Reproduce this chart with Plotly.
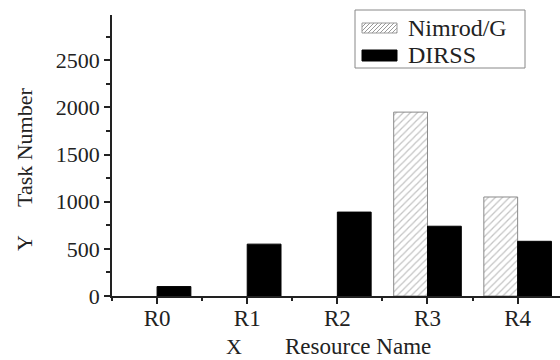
import plotly.graph_objects as go

categories = ["R0", "R1", "R2", "R3", "R4"]
nimrod_g = [None, None, None, 1950, 1050]
dirss = [100, 550, 890, 740, 580]
y_ticks = [0, 500, 1000, 1500, 2000, 2500]
series_names = ["Nimrod/G", "DIRSS"]

W, H = 560, 360
L, R, T, B = 112, 0, 15, 64
PW, PH = W - L - R, H - T - B
FONT = "Liberation Serif"


def px(x):
    return (x - L) / PW


def py(y):
    return (H - B - y) / PH


xs = list(range(len(categories)))

fig = go.Figure()
fig.add_trace(go.Bar(
    x=xs, y=nimrod_g, name=series_names[0],
    marker=dict(color="white", line=dict(color="#8a8a8a", width=1),
                pattern=dict(shape="/", fgcolor="#8a8a8a", bgcolor="white",
                             size=5, solidity=0.25)),
    showlegend=False,
))
fig.add_trace(go.Bar(
    x=xs, y=dirss, name=series_names[1],
    marker=dict(color="black", line=dict(color="black", width=1)),
    showlegend=False,
))

fig.update_layout(
    width=W, height=H,
    margin=dict(l=L, r=R, t=T, b=B, pad=0),
    paper_bgcolor="white", plot_bgcolor="white",
    barmode="group", bargap=0.25, bargroupgap=0,
    font=dict(family=FONT, size=22, color="#222"),
)
fig.update_xaxes(
    range=[-0.5, 4.47], tickvals=xs, ticktext=categories,
    showline=True, linecolor="#222", linewidth=1.5,
    ticks="outside", ticklen=6, tickwidth=1.5, tickcolor="#222",
    minor=dict(tick0=0.5, dtick=1, ticks="outside", ticklen=3, tickwidth=1.5, tickcolor="#222"),
    showgrid=False, zeroline=False, tickfont=dict(size=23, family=FONT),
    ticklabelstandoff=-5,
)
fig.update_yaxes(
    range=[0, 2980], tickvals=y_ticks,
    showline=True, linecolor="#222", linewidth=1.5,
    ticks="outside", ticklen=6, tickwidth=1.5, tickcolor="#222",
    minor=dict(dtick=250, ticks="outside", ticklen=4, tickwidth=1.5, tickcolor="#222"),
    showgrid=False, zeroline=False, tickfont=dict(size=22, family=FONT),
)

shapes = []
annotations = []

# legend box
shapes.append(dict(type="rect", xref="paper", yref="paper",
                   x0=px(355), x1=px(525), y0=py(68), y1=py(10),
                   line=dict(color="#888", width=1), fillcolor="white", layer="above"))
# hatched swatch
sx0, sx1, sy0, sy1 = 362, 397, 23, 33
shapes.append(dict(type="rect", xref="paper", yref="paper",
                   x0=px(sx0), x1=px(sx1), y0=py(sy1), y1=py(sy0),
                   line=dict(color="#999", width=1), fillcolor="white", layer="above"))
hh = sy1 - sy0
step = 4
x0 = sx0 - hh
while x0 < sx1:
    ax, ay = x0, sy1
    bx, by = x0 + hh, sy0
    if ax < sx0:
        ay = sy1 - (sx0 - ax)
        ax = sx0
    if bx > sx1:
        by = sy0 + (bx - sx1)
        bx = sx1
    if bx > ax:
        shapes.append(dict(type="line", xref="paper", yref="paper",
                           x0=px(ax), y0=py(ay), x1=px(bx), y1=py(by),
                           line=dict(color="#999", width=1), layer="above"))
    x0 += step
# black swatch
shapes.append(dict(type="rect", xref="paper", yref="paper",
                   x0=px(362), x1=px(397), y0=py(61), y1=py(50),
                   line=dict(color="black", width=1), fillcolor="black", layer="above"))

annotations.append(dict(text=series_names[0], xref="paper", yref="paper",
                        x=px(406), y=py(28), xanchor="left", yanchor="middle",
                        showarrow=False, font=dict(size=24, family=FONT)))
annotations.append(dict(text=series_names[1], xref="paper", yref="paper",
                        x=px(406), y=py(55), xanchor="left", yanchor="middle",
                        showarrow=False, font=dict(size=24, family=FONT)))

# axis titles
annotations.append(dict(text="X", xref="paper", yref="paper",
                        x=px(234), y=py(346), xanchor="center", yanchor="middle",
                        showarrow=False, font=dict(size=22, family=FONT)))
annotations.append(dict(text="Resource Name", xref="paper", yref="paper",
                        x=px(283), y=py(346), xanchor="left", yanchor="middle",
                        showarrow=False, font=dict(size=23, family=FONT)))
annotations.append(dict(text="Task Number", xref="paper", yref="paper",
                        x=px(24), y=py(148), xanchor="center", yanchor="middle",
                        textangle=-90, showarrow=False, font=dict(size=22, family=FONT)))
annotations.append(dict(text="Y", xref="paper", yref="paper",
                        x=px(24), y=py(243), xanchor="center", yanchor="middle",
                        textangle=-90, showarrow=False, font=dict(size=22, family=FONT)))

fig.update_layout(shapes=shapes, annotations=annotations)
fig.write_html("out.html", config={"displayModeBar": False},
               post_script="document.body.style.margin='0';")
